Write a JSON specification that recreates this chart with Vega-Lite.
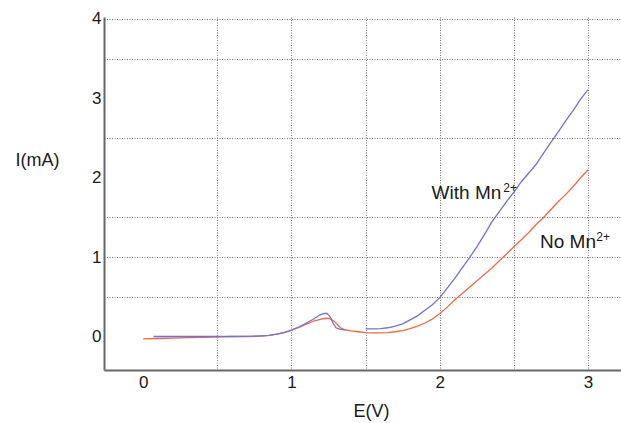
{
  "$schema": "https://vega.github.io/schema/vega-lite/v6.json",
  "width": 517,
  "height": 353,
  "autosize": {"type": "none"},
  "padding": {"left": 104, "top": 17, "right": 0, "bottom": 53},
  "background": "white",
  "config": {
    "view": {"stroke": null},
    "font": "Liberation Sans",
    "axis": {
      "labelFont": "Liberation Sans",
      "titleFont": "Liberation Sans",
      "labelColor": "#1a1a1a",
      "titleColor": "#1a1a1a",
      "titleFontWeight": "normal",
      "domainColor": "#666666",
      "domainWidth": 2,
      "ticks": false,
      "tickSize": 0,
      "gridColor": "#7a7a7a",
      "gridDash": [1, 1.5],
      "gridWidth": 1
    }
  },
  "datasets": {
    "curves": [
      {"series": "No Mn", "seg": "a", "x": 0.00, "y": -0.03},
      {"series": "No Mn", "seg": "a", "x": 0.10, "y": -0.025},
      {"series": "No Mn", "seg": "a", "x": 0.20, "y": -0.02},
      {"series": "No Mn", "seg": "a", "x": 0.30, "y": -0.015},
      {"series": "No Mn", "seg": "a", "x": 0.40, "y": -0.01},
      {"series": "No Mn", "seg": "a", "x": 0.50, "y": -0.005},
      {"series": "No Mn", "seg": "a", "x": 0.60, "y": 0.0},
      {"series": "No Mn", "seg": "a", "x": 0.70, "y": 0.0},
      {"series": "No Mn", "seg": "a", "x": 0.80, "y": 0.005},
      {"series": "No Mn", "seg": "a", "x": 0.85, "y": 0.015},
      {"series": "No Mn", "seg": "a", "x": 0.90, "y": 0.03},
      {"series": "No Mn", "seg": "a", "x": 0.95, "y": 0.05},
      {"series": "No Mn", "seg": "a", "x": 1.00, "y": 0.08},
      {"series": "No Mn", "seg": "a", "x": 1.05, "y": 0.115},
      {"series": "No Mn", "seg": "a", "x": 1.10, "y": 0.155},
      {"series": "No Mn", "seg": "a", "x": 1.15, "y": 0.195},
      {"series": "No Mn", "seg": "a", "x": 1.20, "y": 0.22},
      {"series": "No Mn", "seg": "a", "x": 1.23, "y": 0.23},
      {"series": "No Mn", "seg": "a", "x": 1.26, "y": 0.225},
      {"series": "No Mn", "seg": "a", "x": 1.29, "y": 0.19},
      {"series": "No Mn", "seg": "a", "x": 1.31, "y": 0.15},
      {"series": "No Mn", "seg": "a", "x": 1.33, "y": 0.11},
      {"series": "No Mn", "seg": "a", "x": 1.36, "y": 0.085},
      {"series": "No Mn", "seg": "a", "x": 1.40, "y": 0.07},
      {"series": "No Mn", "seg": "a", "x": 1.45, "y": 0.06},
      {"series": "No Mn", "seg": "a", "x": 1.50, "y": 0.05},
      {"series": "No Mn", "seg": "a", "x": 1.55, "y": 0.045},
      {"series": "No Mn", "seg": "a", "x": 1.60, "y": 0.045},
      {"series": "No Mn", "seg": "a", "x": 1.65, "y": 0.05},
      {"series": "No Mn", "seg": "a", "x": 1.70, "y": 0.06},
      {"series": "No Mn", "seg": "a", "x": 1.75, "y": 0.075},
      {"series": "No Mn", "seg": "a", "x": 1.80, "y": 0.10},
      {"series": "No Mn", "seg": "a", "x": 1.85, "y": 0.13},
      {"series": "No Mn", "seg": "a", "x": 1.90, "y": 0.17},
      {"series": "No Mn", "seg": "a", "x": 1.95, "y": 0.22},
      {"series": "No Mn", "seg": "a", "x": 2.00, "y": 0.29},
      {"series": "No Mn", "seg": "a", "x": 2.05, "y": 0.37},
      {"series": "No Mn", "seg": "a", "x": 2.10, "y": 0.46},
      {"series": "No Mn", "seg": "a", "x": 2.15, "y": 0.54},
      {"series": "No Mn", "seg": "a", "x": 2.20, "y": 0.62},
      {"series": "No Mn", "seg": "a", "x": 2.25, "y": 0.70},
      {"series": "No Mn", "seg": "a", "x": 2.30, "y": 0.78},
      {"series": "No Mn", "seg": "a", "x": 2.35, "y": 0.86},
      {"series": "No Mn", "seg": "a", "x": 2.40, "y": 0.95},
      {"series": "No Mn", "seg": "a", "x": 2.45, "y": 1.04},
      {"series": "No Mn", "seg": "a", "x": 2.50, "y": 1.13},
      {"series": "No Mn", "seg": "a", "x": 2.55, "y": 1.22},
      {"series": "No Mn", "seg": "a", "x": 2.60, "y": 1.31},
      {"series": "No Mn", "seg": "a", "x": 2.65, "y": 1.41},
      {"series": "No Mn", "seg": "a", "x": 2.70, "y": 1.50},
      {"series": "No Mn", "seg": "a", "x": 2.75, "y": 1.60},
      {"series": "No Mn", "seg": "a", "x": 2.80, "y": 1.70},
      {"series": "No Mn", "seg": "a", "x": 2.85, "y": 1.79},
      {"series": "No Mn", "seg": "a", "x": 2.90, "y": 1.89},
      {"series": "No Mn", "seg": "a", "x": 2.95, "y": 2.00},
      {"series": "No Mn", "seg": "a", "x": 3.00, "y": 2.10},
      {"series": "With Mn", "seg": "b1", "x": 0.07, "y": 0.0},
      {"series": "With Mn", "seg": "b1", "x": 0.20, "y": 0.0},
      {"series": "With Mn", "seg": "b1", "x": 0.40, "y": 0.0},
      {"series": "With Mn", "seg": "b1", "x": 0.60, "y": 0.0},
      {"series": "With Mn", "seg": "b1", "x": 0.75, "y": 0.005},
      {"series": "With Mn", "seg": "b1", "x": 0.85, "y": 0.015},
      {"series": "With Mn", "seg": "b1", "x": 0.90, "y": 0.03},
      {"series": "With Mn", "seg": "b1", "x": 0.95, "y": 0.05},
      {"series": "With Mn", "seg": "b1", "x": 1.00, "y": 0.08},
      {"series": "With Mn", "seg": "b1", "x": 1.05, "y": 0.12},
      {"series": "With Mn", "seg": "b1", "x": 1.10, "y": 0.17},
      {"series": "With Mn", "seg": "b1", "x": 1.15, "y": 0.22},
      {"series": "With Mn", "seg": "b1", "x": 1.19, "y": 0.27},
      {"series": "With Mn", "seg": "b1", "x": 1.22, "y": 0.29},
      {"series": "With Mn", "seg": "b1", "x": 1.24, "y": 0.29},
      {"series": "With Mn", "seg": "b1", "x": 1.26, "y": 0.25},
      {"series": "With Mn", "seg": "b1", "x": 1.28, "y": 0.17},
      {"series": "With Mn", "seg": "b1", "x": 1.30, "y": 0.11},
      {"series": "With Mn", "seg": "b1", "x": 1.33, "y": 0.09},
      {"series": "With Mn", "seg": "b1", "x": 1.36, "y": 0.085},
      {"series": "With Mn", "seg": "b2", "x": 1.50, "y": 0.095},
      {"series": "With Mn", "seg": "b2", "x": 1.55, "y": 0.095},
      {"series": "With Mn", "seg": "b2", "x": 1.60, "y": 0.10},
      {"series": "With Mn", "seg": "b2", "x": 1.65, "y": 0.11},
      {"series": "With Mn", "seg": "b2", "x": 1.70, "y": 0.13},
      {"series": "With Mn", "seg": "b2", "x": 1.75, "y": 0.16},
      {"series": "With Mn", "seg": "b2", "x": 1.80, "y": 0.21},
      {"series": "With Mn", "seg": "b2", "x": 1.85, "y": 0.26},
      {"series": "With Mn", "seg": "b2", "x": 1.90, "y": 0.33},
      {"series": "With Mn", "seg": "b2", "x": 1.95, "y": 0.40},
      {"series": "With Mn", "seg": "b2", "x": 2.00, "y": 0.49},
      {"series": "With Mn", "seg": "b2", "x": 2.05, "y": 0.61},
      {"series": "With Mn", "seg": "b2", "x": 2.10, "y": 0.73},
      {"series": "With Mn", "seg": "b2", "x": 2.15, "y": 0.86},
      {"series": "With Mn", "seg": "b2", "x": 2.20, "y": 0.99},
      {"series": "With Mn", "seg": "b2", "x": 2.25, "y": 1.13},
      {"series": "With Mn", "seg": "b2", "x": 2.30, "y": 1.28},
      {"series": "With Mn", "seg": "b2", "x": 2.35, "y": 1.44},
      {"series": "With Mn", "seg": "b2", "x": 2.40, "y": 1.57},
      {"series": "With Mn", "seg": "b2", "x": 2.45, "y": 1.70},
      {"series": "With Mn", "seg": "b2", "x": 2.50, "y": 1.82},
      {"series": "With Mn", "seg": "b2", "x": 2.55, "y": 1.95},
      {"series": "With Mn", "seg": "b2", "x": 2.60, "y": 2.06},
      {"series": "With Mn", "seg": "b2", "x": 2.65, "y": 2.17},
      {"series": "With Mn", "seg": "b2", "x": 2.70, "y": 2.31},
      {"series": "With Mn", "seg": "b2", "x": 2.75, "y": 2.45},
      {"series": "With Mn", "seg": "b2", "x": 2.80, "y": 2.58},
      {"series": "With Mn", "seg": "b2", "x": 2.85, "y": 2.72},
      {"series": "With Mn", "seg": "b2", "x": 2.90, "y": 2.85},
      {"series": "With Mn", "seg": "b2", "x": 2.95, "y": 2.99},
      {"series": "With Mn", "seg": "b2", "x": 3.00, "y": 3.11}
    ],
    "labels": [
      {"label": "With Mn", "x": 1.945, "y": 1.81},
      {"label": "No Mn", "x": 2.676, "y": 1.19}
    ],
    "sups": [
      {"label": "2+", "x": 2.428, "y": 1.87},
      {"label": "2+", "x": 3.055, "y": 1.25}
    ]
  },
  "encoding": {
    "x": {
      "field": "x",
      "type": "quantitative",
      "scale": {"domain": [-0.264, 3.222], "nice": false, "zero": false},
      "axis": {
        "title": "E(V)",
        "titleFontSize": 18,
        "titleAngle": 0,
        "titleAlign": "center",
        "titleBaseline": "middle",
        "titleX": 267,
        "titleY": 41,
        "values": [0, 0.5, 1, 1.5, 2, 2.5, 3],
        "labelExpr": "datum.value % 1 === 0 ? format(datum.value, 'd') : ''",
        "labelFontSize": 17,
        "labelPadding": 4,
        "grid": true,
        "gridOpacity": {"condition": {"test": "datum.value === 0", "value": 0}, "value": 1}
      }
    },
    "y": {
      "field": "y",
      "type": "quantitative",
      "scale": {"domain": [-0.422, 4.025], "nice": false, "zero": false},
      "axis": {
        "title": "I(mA)",
        "titleFontSize": 18,
        "titleAngle": 0,
        "titleAlign": "center",
        "titleBaseline": "middle",
        "titleX": -67,
        "titleY": 143,
        "values": [0, 0.5, 1, 1.5, 2, 2.5, 3, 3.5, 4],
        "labelExpr": "datum.value % 1 === 0 ? format(datum.value, 'd') : ''",
        "labelFontSize": 17,
        "labelPadding": 3,
        "grid": true,
        "gridOpacity": {"condition": {"test": "datum.value === 0 || datum.value === 2 || datum.value === 3", "value": 0}, "value": 1}
      }
    }
  },
  "layer": [
    {
      "data": {"name": "curves"},
      "mark": {"type": "line", "strokeWidth": 1.3},
      "encoding": {
        "color": {
          "field": "series",
          "type": "nominal",
          "scale": {"domain": ["No Mn", "With Mn"], "range": ["#ec6a45", "#7272d6"]},
          "legend": null
        },
        "detail": {"field": "seg", "type": "nominal"},
        "order": {"field": "x", "type": "quantitative"}
      }
    },
    {
      "data": {"name": "labels"},
      "mark": {"type": "text", "align": "left", "baseline": "middle", "fontSize": 19, "font": "Liberation Sans", "color": "#1a1a1a"},
      "encoding": {
        "text": {"field": "label", "type": "nominal"}
      }
    },
    {
      "data": {"name": "sups"},
      "mark": {"type": "text", "align": "left", "baseline": "middle", "fontSize": 12, "font": "Liberation Sans", "color": "#1a1a1a"},
      "encoding": {
        "text": {"field": "label", "type": "nominal"}
      }
    }
  ]
}
